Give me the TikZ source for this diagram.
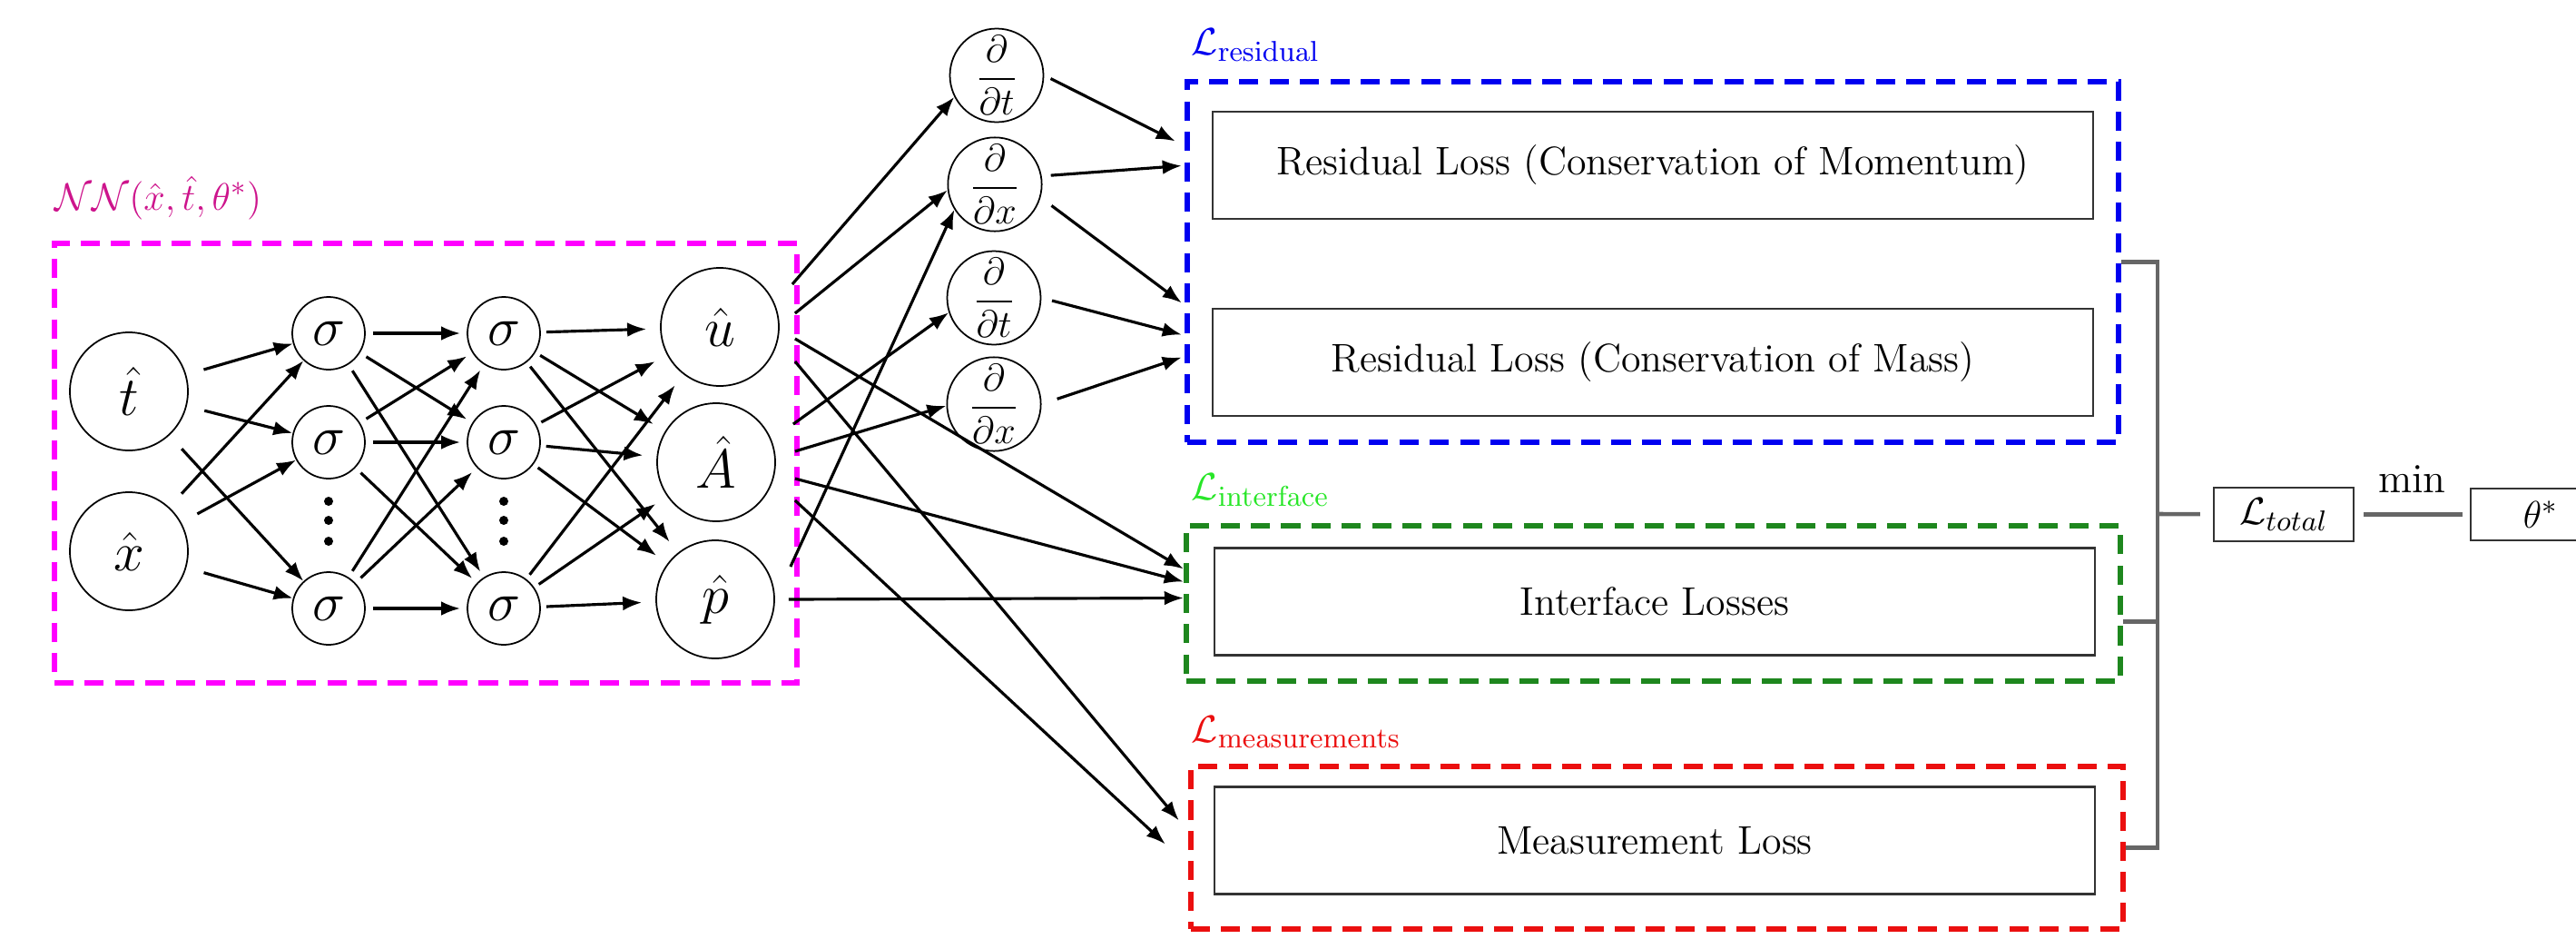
\documentclass[tikz,border=0pt]{standalone}
\usetikzlibrary{arrows.meta}
\definecolor{nnpink}{RGB}{205,20,140}
\definecolor{nnedge}{RGB}{255,0,255}
\definecolor{resblue}{RGB}{0,0,240}
\definecolor{ifgreen}{RGB}{30,135,30}
\definecolor{iflight}{RGB}{40,230,40}
\definecolor{msred}{RGB}{235,15,15}
\tikzset{
    neuron/.style={circle, draw, line width=0.5pt, inner sep=0pt,
                   minimum size=0.80cm, font=\fontsize{17}{20}\selectfont},
    io/.style={neuron, minimum size=1.30cm},
    deriv/.style={neuron, minimum size=1.03cm, font=\fontsize{12.5}{15}\selectfont},
    lossbox/.style={draw=black!80, line width=0.6pt, minimum width=9.70cm,
                    minimum height=1.18cm, font=\fontsize{12.5}{15}\selectfont},
    lossgroup/.style={draw, dash pattern=on 6pt off 3.5pt, line width=1.8pt,
                      inner sep=0pt},
    flow/.style={-{Latex[length=6pt,width=4.5pt]}, line width=0.9pt},
    tag/.style={anchor=base west, inner sep=0pt, font=\fontsize{13}{16}\selectfont},
    bracket/.style={draw=black!60, line width=1.3pt},
    result/.style={draw=black!80, line width=0.6pt, minimum width=1.54cm,
                   minimum height=0.57cm, font=\fontsize{13}{16}\selectfont},
}
\begin{document}
\begin{tikzpicture}
    \useasboundingbox (0,0) rectangle (28.38,-10.33);
    \clip (0,0) rectangle (28.38,-10.33);

    % network
    \node[lossgroup, draw=nnedge, minimum width=8.18cm, minimum height=4.84cm]
        (nnbox) at (4.69,-5.10) {};
    \node[tag, text=nnpink] (nnlabel) at (0.60,-2.31)
        {$\mathcal{N}\mathcal{N}(\hat{x},\hat{t},\theta^{*})$};

    \node[io] (tin) at (1.42,-4.31) {$\hat{t}$};
    \node[io] (xin) at (1.42,-6.07) {$\hat{x}$};

    \node[neuron] (h11) at (3.62,-3.67) {$\sigma$};
    \node[neuron] (h12) at (3.62,-4.87) {$\sigma$};
    \node[neuron] (h13) at (3.62,-6.70) {$\sigma$};
    \node[neuron] (h21) at (5.55,-3.67) {$\sigma$};
    \node[neuron] (h22) at (5.55,-4.87) {$\sigma$};
    \node[neuron] (h23) at (5.55,-6.70) {$\sigma$};
    \foreach \xx in {3.62,5.55}
        \foreach \yy in {5.52,5.73,5.96}
            \fill (\xx,-\yy) circle (0.05);

    \node[io] (uout) at (7.93,-3.60) {$\hat{u}$};
    \node[io] (aout) at (7.89,-5.09) {$\hat{A}$};
    \node[io] (pout) at (7.88,-6.60) {$\hat{p}$};

    \foreach \a in {tin,xin}
        \foreach \b in {h11,h12,h13}
            \draw[flow, shorten <=0.2cm] (\a) -- (\b);
    \foreach \a in {h11,h12,h13}
        \foreach \b in {h21,h22,h23}
            \draw[flow, shorten <=0.08cm, shorten >=0.07cm] (\a) -- (\b);
    \foreach \a in {h21,h22,h23}
        \foreach \b in {uout,aout,pout}
            \draw[flow, shorten <=0.06cm, shorten >=0.15cm] (\a) -- (\b);

    % derivatives
    \node[deriv] (dt1) at (10.98,-0.83) {$\displaystyle\frac{\partial}{\partial t}$};
    \node[deriv] (dx1) at (10.96,-2.03) {$\displaystyle\frac{\partial}{\partial x}$};
    \node[deriv] (dt2) at (10.95,-3.28) {$\displaystyle\frac{\partial}{\partial t}$};
    \node[deriv] (dx2) at (10.95,-4.45) {$\displaystyle\frac{\partial}{\partial x}$};

    % loss terms
    \node[lossgroup, draw=resblue, minimum width=10.26cm, minimum height=3.97cm]
        (resbox) at (18.21,-2.885) {};
    \node[tag, text=resblue] (reslabel) at (13.12,-0.60) {$\mathcal{L}_{\mathrm{residual}}$};
    \node[lossbox] (mom) at (18.21,-1.82) {Residual Loss (Conservation of Momentum)};
    \node[lossbox] (mass) at (18.21,-3.99) {Residual Loss (Conservation of Mass)};

    \node[lossgroup, draw=ifgreen, minimum width=10.29cm, minimum height=1.71cm]
        (ifbox) at (18.215,-6.645) {};
    \node[tag, text=iflight] (iflabel) at (13.12,-5.50) {$\mathcal{L}_{\mathrm{interface}}$};
    \node[lossbox] (iface) at (18.23,-6.625) {Interface Losses};

    \node[lossgroup, draw=msred, minimum width=10.27cm, minimum height=1.79cm]
        (msbox) at (18.255,-9.335) {};
    \node[tag, text=msred] (mslabel) at (13.12,-8.17) {$\mathcal{L}_{\mathrm{measurements}}$};
    \node[lossbox] (meas) at (18.23,-9.255) {Measurement Loss};

    \draw[flow] ([shift={(0.14,0.47)}]uout.east) -- (dt1.207);
    \draw[flow] ([shift={(0.17,0.15)}]uout.east) -- (dx1.187);
    \draw[flow] ([shift={(0.17,0.36)}]pout.east) -- (dx1.212);
    \draw[flow] ([shift={(0.19,0.42)}]aout.east) -- (dt2.198);
    \draw[flow] ([shift={(0.21,0.12)}]aout.east) -- (dx2.182);
    \draw[flow] ([shift={(0.17,-0.13)}]uout.east) -- ([yshift=0.38cm]ifbox.west);
    \draw[flow] ([shift={(0.21,-0.18)}]aout.east) -- ([yshift=0.24cm]ifbox.west);
    \draw[flow] ([xshift=0.15cm]pout.east) -- ([yshift=0.06cm]ifbox.west);
    \draw[flow] ([shift={(0.17,-0.38)}]uout.east) -- ([shift={(-0.1,0.30)}]msbox.west);
    \draw[flow] ([shift={(0.21,-0.42)}]aout.east) -- ([shift={(-0.25,0.04)}]msbox.west);

    \draw[flow, shorten <=0.08cm] (dt1.east) -- ([shift={(-0.1,1.33)}]resbox.west);
    \draw[flow, shorten <=0.1cm] (dx1.10) -- ([shift={(-0.03,1.06)}]resbox.west);
    \draw[flow, shorten <=0.15cm] (dx1.-16) -- ([shift={(-0.03,-0.45)}]resbox.west);
    \draw[flow, shorten <=0.12cm] (dt2.east) -- ([shift={(-0.03,-0.80)}]resbox.west);
    \draw[flow, shorten <=0.18cm] (dx2.east) -- ([shift={(-0.03,-1.05)}]resbox.west);

    % total loss
    \coordinate (join) at (23.77,-5.66);
    \coordinate (ifout) at ([yshift=-0.2cm]ifbox.east);
    \node[result] (ltot) at (25.16,-5.665) {$\mathcal{L}_{total}$};
    \node[result] (theta) at (27.99,-5.665) {$\theta^{*}$};
    \draw[bracket] (resbox.east) -- (resbox.east -| join)
        -- (msbox.east -| join) -- (msbox.east);
    \draw[bracket] (ifout) -- (ifout -| join);
    \draw[bracket, shorten >=0.14cm] (join) -- (ltot);
    \draw[bracket, shorten <=0.1cm, shorten >=0.08cm] (ltot) -- (theta)
        node[midway, above=0.1cm, font=\fontsize{13}{16}\selectfont] (minlabel) {min};

\end{tikzpicture}
\end{document}
